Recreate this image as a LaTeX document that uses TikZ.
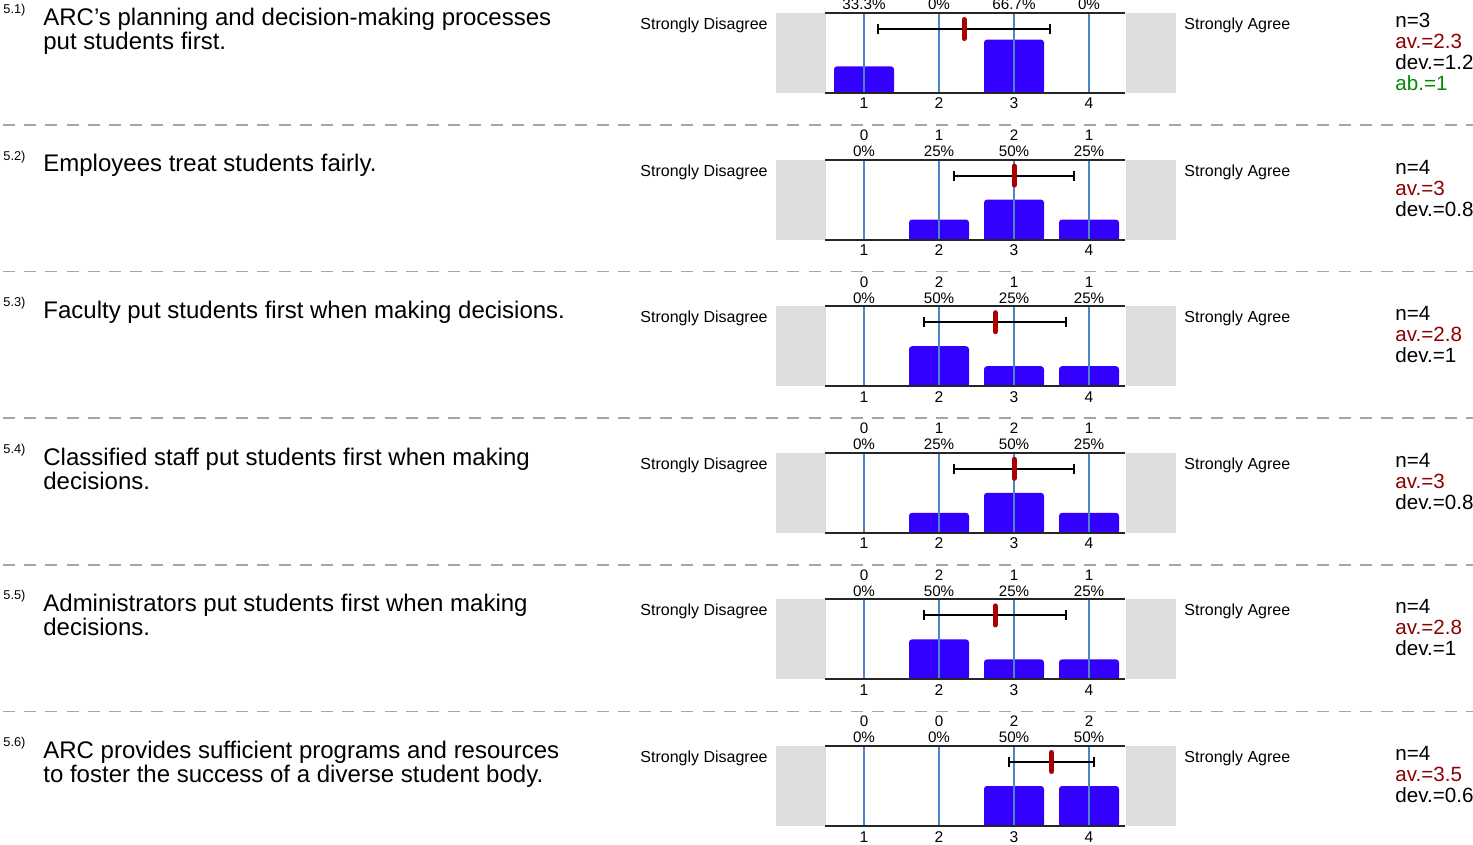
\documentclass[tikz,border=0pt]{standalone}
\usepackage{fontspec}
\setmainfont{Liberation Sans}
\usepackage{tikz}
\usetikzlibrary{arrows.meta,positioning}
\usepackage{xcolor}
\definecolor{dfgrey}{RGB}{221,221,221}
\definecolor{dfgrid}{RGB}{74,134,200}
\definecolor{dfbar}{RGB}{51,0,255}
\definecolor{dfmean}{RGB}{170,0,0}
\definecolor{dfav}{RGB}{139,0,0}
\definecolor{dfab}{RGB}{0,139,0}
\definecolor{dfsep}{RGB}{165,165,165}
\tikzstyle{sidebox} = [fill=dfgrey]
\tikzstyle{gridline} = [draw=dfgrid, line width=0.7pt]
\tikzstyle{frameline} = [draw=black!85, line width=1pt]
\tikzstyle{likertbar} = [fill=dfbar]
\tikzstyle{errbar} = [draw=black, line width=1pt, {Bar[width=5pt]}-{Bar[width=5pt]}]
\tikzstyle{meanmark} = [draw=dfmean, line width=2.5pt, line cap=round]
\tikzstyle{separator} = [draw=dfsep, line width=0.9pt, dash pattern=on 6pt off 4.6pt]
\tikzstyle{qtitle} = [anchor=base west, inner sep=0, align=left, font=\fontsize{12}{12}\selectfont]
\tikzstyle{qnum} = [anchor=base west, inner sep=0, font=\fontsize{6.4}{7}\selectfont]
\tikzstyle{sidelabel} = [inner sep=0, font=\fontsize{8}{9.6}\selectfont]
\tikzstyle{stat} = [anchor=base west, inner sep=0, font=\fontsize{10.3}{12}\selectfont]
\tikzstyle{countlabel} = [anchor=south, inner sep=0, align=center, font=\fontsize{7.6}{8}\selectfont]
\tikzstyle{scalenum} = [anchor=base, inner sep=0, font=\fontsize{7.8}{8}\selectfont]

% one likert chart: name, top, percents, labels, mean, sd, n, av, dev
\newcommand{\likertrow}[9]{%
\begin{scope}[shift={(0,#2)}]
  \fill[sidebox] (776,0) rectangle (826,80);
  \fill[sidebox] (1126,0) rectangle (1176,80);
  \foreach \p [count=\i] in {#3} {
    \pgfmathsetmacro\bx{864+75*(\i-1)}
    \pgfmathsetmacro\bh{0.8*\p}
    \ifdim\bh pt>0pt
      \fill[likertbar, rounded corners=1.5pt] (\bx-30,80-\bh) rectangle (\bx+30,80);
      \fill[likertbar] (\bx-30,84-\bh) rectangle (\bx+30,80);
    \fi
  }
  \foreach \x in {864,939,1014,1089} \draw[gridline] (\x,0) -- (\x,80);
  \draw[frameline] (825,0) -- (1125,0);
  \draw[frameline] (825,80) -- (1125,80);
  \foreach \l [count=\i] in {#4} \node[countlabel] (#1-c\i) at (789+75*\i,-2.5) {\l};
  \foreach \i in {1,...,4} \node[scalenum] (#1-s\i) at (789+75*\i,96) {\i};
  \pgfmathsetmacro\mx{864+75*(#5-1)}
  \pgfmathsetmacro\sx{75*#6}
  \coordinate (#1-lo) at (\mx-\sx,16);
  \coordinate (#1-hi) at (\mx+\sx,16);
  \draw[errbar] (#1-lo) -- (#1-hi);
  \draw[meanmark] (\mx,6.5) -- (\mx,25.5);
  \node[sidelabel, anchor=base east] (#1-dis) at (768,16.5) {Strongly Disagree};
  \node[sidelabel, anchor=base west] (#1-agr) at (1184,16.5) {Strongly Agree};
  \node[stat] (#1-n) at (1395,14.5) {n=#7};
  \node[stat, text=dfav] (#1-av) at (1395,35.5) {av.=#8};
  \node[stat] (#1-dev) at (1395,56.5) {dev.=#9};
\end{scope}}

\begin{document}
\begin{tikzpicture}[x=0.5pt, y=-0.5pt]
\useasboundingbox (0,0) rectangle (1473,845);
\clip (0,0) rectangle (1473,845);

% 5.1
\node[qnum] (q1-num) at (3,13.5) {5.1)};
\node[qtitle] (q1-title) at (43,49.5) {ARC’s planning and decision-making processes\\put students first.};
\likertrow{q1}{13}{33.3,0,66.7,0}{33.3\%,0\%,66.7\%,0\%}{2.3333}{1.1547}{3}{2.3}{1.2}
\node[stat, text=dfab] (q1-ab) at (1395,90.5) {ab.=1};
\draw[separator] (3,125) -- (1473,125);

% 5.2
\node[qnum] (q2-num) at (3,160.1) {5.2)};
\node[qtitle] (q2-title) at (43,171.8) {Employees treat students fairly.};
\likertrow{q2}{159.6}{0,25,50,25}{0\\0\%,1\\25\%,2\\50\%,1\\25\%}{3}{0.8165}{4}{3}{0.8}
\draw[separator] (3,271.6) -- (1473,271.6);

% 5.3
\node[qnum] (q3-num) at (3,306.7) {5.3)};
\node[qtitle] (q3-title) at (43,318.4) {Faculty put students first when making decisions.};
\likertrow{q3}{306.2}{0,50,25,25}{0\\0\%,2\\50\%,1\\25\%,1\\25\%}{2.75}{0.9574}{4}{2.8}{1}
\draw[separator] (3,418.2) -- (1473,418.2);

% 5.4
\node[qnum] (q4-num) at (3,453.3) {5.4)};
\node[qtitle] (q4-title) at (43,489.3) {Classified staff put students first when making\\decisions.};
\likertrow{q4}{452.8}{0,25,50,25}{0\\0\%,1\\25\%,2\\50\%,1\\25\%}{3}{0.8165}{4}{3}{0.8}
\draw[separator] (3,564.8) -- (1473,564.8);

% 5.5
\node[qnum] (q5-num) at (3,599.9) {5.5)};
\node[qtitle] (q5-title) at (43,635.9) {Administrators put students first when making\\decisions.};
\likertrow{q5}{599.4}{0,50,25,25}{0\\0\%,2\\50\%,1\\25\%,1\\25\%}{2.75}{0.9574}{4}{2.8}{1}
\draw[separator] (3,711.4) -- (1473,711.4);

% 5.6
\node[qnum] (q6-num) at (3,746.5) {5.6)};
\node[qtitle] (q6-title) at (43,782.5) {ARC provides sufficient programs and resources\\to foster the success of a diverse student body.};
\likertrow{q6}{746}{0,0,50,50}{0\\0\%,0\\0\%,2\\50\%,2\\50\%}{3.5}{0.5774}{4}{3.5}{0.6}
\end{tikzpicture}
\end{document}
